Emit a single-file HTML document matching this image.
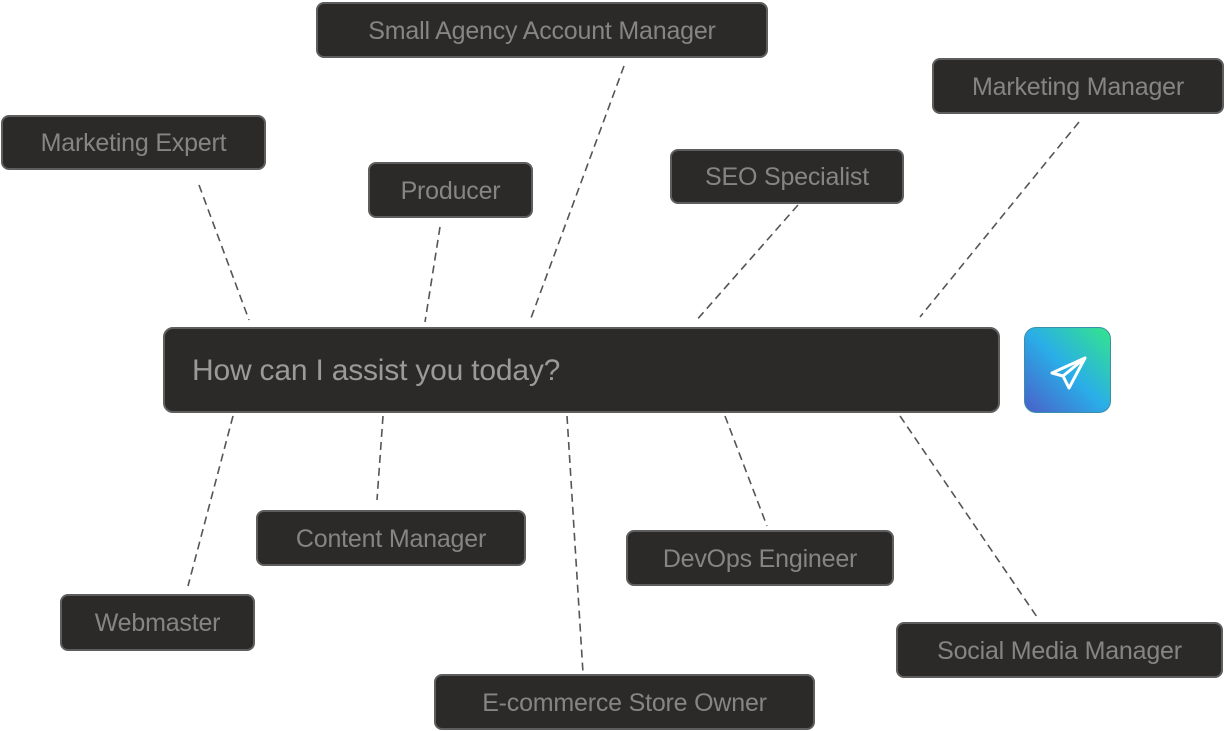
<!DOCTYPE html>
<html><head><meta charset="utf-8"><style>
html,body{margin:0;padding:0;background:#fff;width:1225px;height:731px;overflow:hidden;font-family:"Liberation Sans",sans-serif}
.b{position:absolute;box-sizing:border-box;background:#2b2a28;border:2px solid #5e5e5e;border-radius:8px;color:#858585;font-size:25px;display:flex;align-items:center;justify-content:center;white-space:nowrap;letter-spacing:-0.2px;padding-top:2px}
svg{position:absolute;left:0;top:0}
</style></head><body>
<svg width="1225" height="731"><g stroke="#555" stroke-width="1.6" stroke-dasharray="8,5" fill="none">
<line x1="199" y1="185" x2="249" y2="320"/>
<line x1="440" y1="227" x2="425" y2="322"/>
<line x1="624" y1="66" x2="531" y2="318"/>
<line x1="798" y1="205" x2="695" y2="322"/>
<line x1="1079" y1="122" x2="920" y2="317"/>
<line x1="233" y1="416" x2="188" y2="586"/>
<line x1="383" y1="416" x2="377" y2="500"/>
<line x1="567" y1="416" x2="583" y2="673"/>
<line x1="725" y1="416" x2="767" y2="526"/>
<line x1="900" y1="416" x2="1037" y2="617"/>
</g></svg>
<div class="b" style="left:316px;top:2px;width:452px;height:56px">Small Agency Account Manager</div>
<div class="b" style="left:932px;top:58px;width:292px;height:56px">Marketing Manager</div>
<div class="b" style="left:1px;top:115px;width:265px;height:55px">Marketing Expert</div>
<div class="b" style="left:368px;top:162px;width:165px;height:56px">Producer</div>
<div class="b" style="left:670px;top:149px;width:234px;height:55px">SEO Specialist</div>
<div class="b" style="left:256px;top:510px;width:270px;height:56px">Content Manager</div>
<div class="b" style="left:626px;top:530px;width:268px;height:56px">DevOps Engineer</div>
<div class="b" style="left:60px;top:594px;width:195px;height:57px">Webmaster</div>
<div class="b" style="left:896px;top:622px;width:327px;height:56px">Social Media Manager</div>
<div class="b" style="left:434px;top:674px;width:381px;height:56px">E-commerce Store Owner</div>
<div class="b" style="left:163px;top:327px;width:837px;height:86px;justify-content:flex-start;padding-left:27px;font-size:30px;color:#9a9a9a;border-radius:10px">How can I assist you today?</div>
<div style="position:absolute;left:1024px;top:327px;width:87px;height:86px;border-radius:12px;background:linear-gradient(225deg,#34e58a 0%,#2aaee8 50%,#4a5fc8 100%);box-sizing:border-box;border:1px solid #3a8fa8">
<svg width="87" height="86" viewBox="0 0 87 86" style="position:absolute;left:0;top:0"><path d="M60 30 L27 45 L38 48 L44 60 Z M38 48 L60 30" fill="none" stroke="#fff" stroke-width="3" stroke-linejoin="round" stroke-linecap="round"/></svg>
</div>
</body></html>
